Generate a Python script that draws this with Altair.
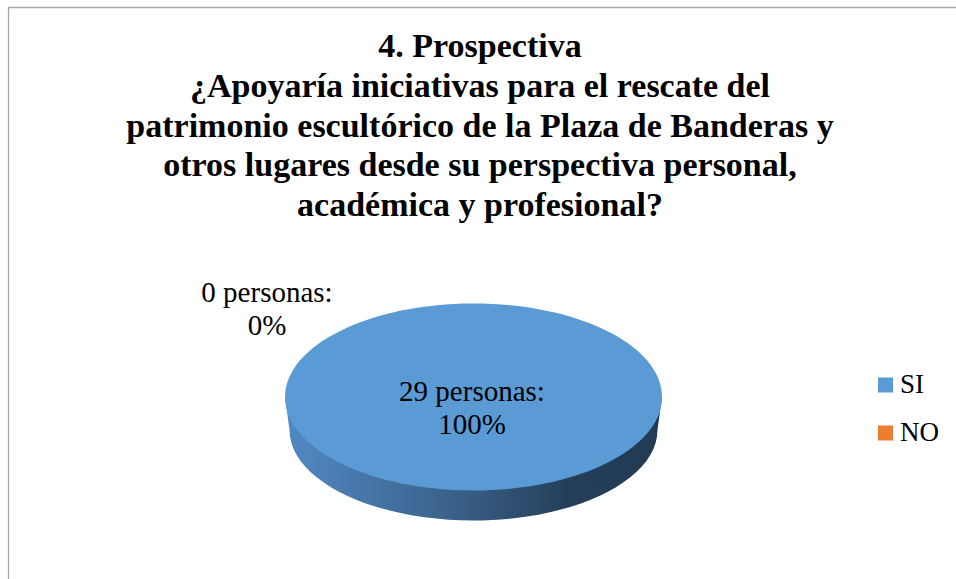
import altair as alt
import pandas as pd

# ---- data ----
titulo = [
    "4. Prospectiva",
    "¿Apoyaría iniciativas para el rescate del",
    "patrimonio escultórico de la Plaza de Banderas y",
    "otros lugares desde su perspectiva personal,",
    "académica y profesional?",
]
categorias = ["SI", "NO"]
personas = [29, 0]
colores = ["#5B9BD5", "#ED7D31"]

df = pd.DataFrame({"categoria": categorias, "personas": personas})
FONT = "'Liberation Serif', 'Times New Roman', Times, serif"

W, H = 956, 579
CX, CY = 473.5, 397
SIZE = 377 ** 2  # bounding square of the custom ellipse shapes

TOP_SHAPE = "M -1 0 A 1 0.496 0 1 0 1 0 A 1 0.496 0 1 0 -1 0 Z"
SIDE_SHAPE = "M -1 0 L -0.976 0.175 A 0.976 0.48 0 0 0 0.976 0.175 L 1 0 Z"

base = alt.Chart(df).transform_joinaggregate(
    total="sum(personas)"
).transform_calculate(
    pct="round(datum.personas / datum.total * 100)",
    etiqueta="datum.personas + ' personas:\\n' + datum.pct + '%'",
)

color = alt.Color(
    "categoria:N",
    scale=alt.Scale(domain=categorias, range=colores),
    legend=alt.Legend(
        title=None,
        orient="none",
        legendX=872,
        legendY=371.5,
        symbolType="square",
        symbolSize=225,
        symbolStrokeWidth=0,
        symbolOpacity=1,
        labelFont=FONT,
        labelFontSize=27,
        labelColor="#000000",
        labelOffset=1,
        rowPadding=20,
        padding=0,
    ),
)

side = base.transform_filter("datum.personas > 0").mark_point(
    shape=SIDE_SHAPE,
    size=SIZE,
    filled=True,
    opacity=1,
    strokeWidth=0,
    fill=alt.LinearGradient(
        gradient="linear",
        x1=0, x2=1, y1=0, y2=0,
        stops=[
            alt.GradientStop(offset=0, color="#5289C4"),
            alt.GradientStop(offset=0.45, color="#3A6089"),
            alt.GradientStop(offset=0.75, color="#253F5A"),
            alt.GradientStop(offset=1, color="#223A52"),
        ],
    ),
).encode(x=alt.value(CX), y=alt.value(CY))

top = base.transform_filter("datum.personas > 0").mark_point(
    shape=TOP_SHAPE,
    size=SIZE,
    filled=True,
    opacity=1,
    strokeWidth=0,
).encode(x=alt.value(CX), y=alt.value(CY), color=color)

lab_si = base.transform_filter("datum.categoria == 'SI'").mark_text(
    font=FONT, fontSize=29, lineBreak="\n", lineHeight=33,
    align="center", baseline="middle", color="#000000",
).encode(x=alt.value(472), y=alt.value(392), text="etiqueta:N")

lab_no = base.transform_filter("datum.categoria == 'NO'").mark_text(
    font=FONT, fontSize=29, lineBreak="\n", lineHeight=33,
    align="center", baseline="middle", color="#000000",
).encode(x=alt.value(267), y=alt.value(293), text="etiqueta:N")

title_df = pd.DataFrame({"t": ["\n".join(titulo)]})
title = alt.Chart(title_df).mark_text(
    font=FONT, fontSize=34, fontWeight="bold", lineBreak="\n", lineHeight=39.75,
    align="center", baseline="middle", color="#000000",
).encode(x=alt.value(480), y=alt.value(47), text="t:N")

frame = alt.Chart(title_df).mark_rect(
    fill=None, stroke="#A6A6A6", strokeWidth=1.3
).encode(x=alt.value(8.5), x2=alt.value(1100), y=alt.value(7.5), y2=alt.value(700))

chart = alt.layer(frame, side, top, lab_si, lab_no, title).properties(
    width=W, height=H, padding=0, autosize=alt.AutoSizeParams(type="none"),
    background="#FFFFFF",
).configure_view(stroke=None)

chart.save("out.html", embed_options={"renderer": "svg", "actions": False})
